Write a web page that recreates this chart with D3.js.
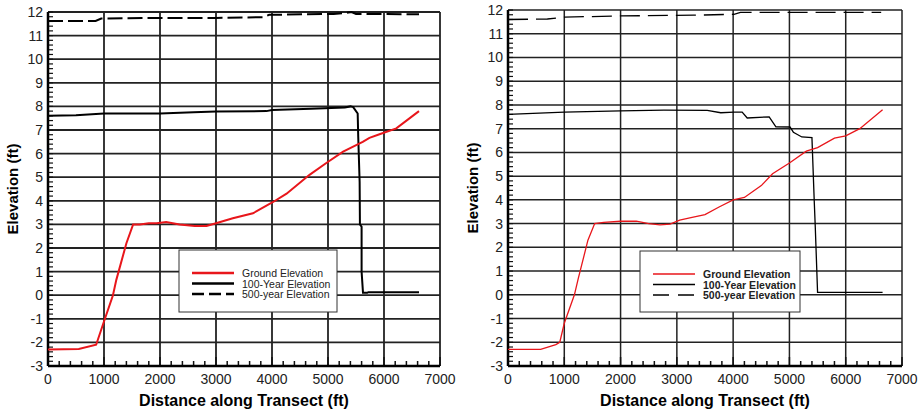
<!DOCTYPE html>
<html>
<head>
<meta charset="utf-8">
<script src="https://cdn.jsdelivr.net/npm/d3@7"></script>
<style>
  body { margin: 0; background: #fff; }
  svg { display: block; font-family: "Liberation Sans", Arial, sans-serif; }
</style>
</head>
<body>
<svg id="chart" width="924" height="413"></svg>
<script>
// Left panel
const groundLeft = [[0,-2.3],[550,-2.28],[860,-2.1],[980,-1.25],[1160,0],[1220,0.65],[1400,2.2],[1520,3.0],[1640,3.0],[1800,3.05],[1940,3.05],[2110,3.1],[2350,3.0],[2620,2.93],[2830,2.93],[3000,3.05],[3300,3.26],[3660,3.47],[4020,3.95],[4260,4.3],[4670,5.1],[4970,5.6],[5270,6.08],[5620,6.5],[5740,6.67],[5920,6.82],[6220,7.07],[6625,7.8]];
const hundredLeft = [[0,7.6],[500,7.62],[1000,7.7],[2000,7.7],[2600,7.75],[3000,7.78],[3900,7.8],[4000,7.85],[4700,7.9],[5300,7.95],[5400,8.0],[5450,7.97],[5530,7.7],[5540,6.7],[5565,4.8],[5570,3.0],[5600,2.9],[5600,1.0],[5625,0.1],[5700,0.1],[5720,0.13],[6625,0.13]];
const fiveHundredLeft = [[0,11.62],[850,11.62],[950,11.72],[2000,11.75],[3000,11.75],[3850,11.78],[3950,11.88],[5100,11.92],[5300,11.95],[5420,12.0],[5500,11.92],[6625,11.9]];

// Right panel
const groundRight = [[0,-2.3],[580,-2.3],[850,-2.1],[920,-2.0],[1000,-1.2],[1180,0],[1250,0.7],[1420,2.3],[1540,3.0],[1700,3.05],[2000,3.1],[2280,3.1],[2500,3.0],[2700,2.95],[2880,2.98],[3050,3.15],[3250,3.25],[3500,3.38],[3750,3.7],[4000,4.0],[4200,4.1],[4500,4.6],[4700,5.1],[5000,5.55],[5300,6.05],[5500,6.2],[5800,6.6],[6000,6.7],[6250,7.0],[6655,7.8]];
const hundredRight = [[0,7.6],[1000,7.7],[2000,7.75],[2770,7.78],[3540,7.77],[3780,7.67],[4015,7.7],[4160,7.7],[4250,7.45],[4640,7.5],[4760,7.08],[5010,7.07],[5070,6.85],[5220,6.65],[5400,6.62],[5440,4.0],[5460,2.8],[5500,0.1],[6655,0.1]];
const fiveHundredRight = [[0,11.6],[700,11.62],[1000,11.7],[2000,11.75],[3300,11.78],[4015,11.82],[4130,11.9],[6630,11.9]];

const xTicks = [0,1000,2000,3000,4000,5000,6000,7000];
const yTicks = d3.range(-3, 13, 1);
const legendLabels = ["Ground Elevation", "100-Year Elevation", "500-year Elevation"];

const svg = d3.select("#chart");

function drawPanel(cfg) {
    const g = svg.append("g");

    const x = d3.scaleLinear().domain([0, 7000]).range([cfg.left, cfg.right]);
    const y = d3.scaleLinear().domain([-3, 12]).range([cfg.bottom, cfg.top]);

    // grid
    g.selectAll(".vgrid").data(xTicks).enter().append("line")
        .attr("x1", d => x(d)).attr("x2", d => x(d))
        .attr("y1", y(-3)).attr("y2", y(12))
        .attr("stroke", "#222").attr("stroke-width", cfg.grid);
    g.selectAll(".hgrid").data(yTicks).enter().append("line")
        .attr("x1", x(0)).attr("x2", x(7000))
        .attr("y1", d => y(d)).attr("y2", d => y(d))
        .attr("stroke", "#222").attr("stroke-width", cfg.grid);

    // minor ticks
    const xMinor = d3.range(0, 7001, 200);
    const yMinor = d3.range(-3, 12.001, 0.2);
    g.selectAll(".xm").data(xMinor).enter().append("line")
        .attr("x1", d => x(d)).attr("x2", d => x(d))
        .attr("y1", y(-3)).attr("y2", d => y(-3) - (d % 1000 === 0 ? 9 : 5))
        .attr("stroke", "#111").attr("stroke-width", 1.5);
    g.selectAll(".ym").data(yMinor).enter().append("line")
        .attr("x1", x(0)).attr("x2", x(0) + 5)
        .attr("y1", d => y(d)).attr("y2", d => y(d))
        .attr("stroke", "#111").attr("stroke-width", 1.2);

    // axes frame
    g.append("line").attr("x1", x(0)).attr("x2", x(7000)).attr("y1", y(-3)).attr("y2", y(-3))
        .attr("stroke", "#000").attr("stroke-width", 2.5);
    g.append("line").attr("x1", x(0)).attr("x2", x(0)).attr("y1", y(-3)).attr("y2", y(12))
        .attr("stroke", "#000").attr("stroke-width", 2.5);

    // tick labels
    g.selectAll(".xl").data(xTicks).enter().append("text")
        .attr("x", d => x(d)).attr("y", cfg.bottom + 18)
        .attr("text-anchor", "middle").attr("font-size", 14).attr("fill", "#222")
        .text(d => d);
    g.selectAll(".yl").data(yTicks).enter().append("text")
        .attr("x", cfg.left - 5).attr("y", d => y(d) + 5)
        .attr("text-anchor", "end").attr("font-size", 14).attr("fill", "#222")
        .text(d => d);

    // axis titles
    g.append("text")
        .attr("x", (cfg.left + cfg.right) / 2).attr("y", 406)
        .attr("text-anchor", "middle").attr("font-size", 16).attr("font-weight", "bold")
        .text("Distance along Transect (ft)");
    g.append("text")
        .attr("transform", `translate(${cfg.left - 30},${(cfg.top + cfg.bottom) / 2}) rotate(-90)`)
        .attr("text-anchor", "middle").attr("font-size", 15).attr("font-weight", "bold")
        .text("Elevation (ft)");

    // series
    const line = d3.line().x(d => x(d[0])).y(d => y(d[1]));
    g.append("path").datum(cfg.five).attr("d", line)
        .attr("fill", "none").attr("stroke", "#000").attr("stroke-width", cfg.lw)
        .attr("stroke-dasharray", cfg.dash);
    g.append("path").datum(cfg.hundred).attr("d", line)
        .attr("fill", "none").attr("stroke", "#000").attr("stroke-width", cfg.lw);
    g.append("path").datum(cfg.ground).attr("d", line)
        .attr("fill", "none").attr("stroke", "#e8161b").attr("stroke-width", cfg.lw);

    // legend
    const lg = g.append("g");
    lg.append("rect")
        .attr("x", cfg.legend.x).attr("y", cfg.legend.y)
        .attr("width", cfg.legend.w).attr("height", cfg.legend.h)
        .attr("fill", "#fff").attr("stroke", "#333").attr("stroke-width", 1);
    const styles = [
        { c: "#e8161b", dash: null },
        { c: "#000", dash: null },
        { c: "#000", dash: cfg.legendDash }
    ];
    legendLabels.forEach((t, i) => {
        const ly = cfg.legend.y + 23 + i * 10.5;
        lg.append("line")
            .attr("x1", cfg.legend.x + 13).attr("x2", cfg.legend.x + 55)
            .attr("y1", ly).attr("y2", ly)
            .attr("stroke", styles[i].c).attr("stroke-width", cfg.legendLw)
            .attr("stroke-dasharray", styles[i].dash);
        lg.append("text")
            .attr("x", cfg.legend.x + 63).attr("y", ly + 4)
            .attr("font-size", 10.5).attr("font-weight", cfg.legendBold ? "bold" : "normal")
            .attr("fill", "#222")
            .text(t);
    });
}

drawPanel({
    left: 48, right: 440, top: 12, bottom: 366,
    ground: groundLeft, hundred: hundredLeft, five: fiveHundredLeft,
    lw: 2, grid: 1.8, dash: "15,5",
    legend: { x: 179, y: 250, w: 158, h: 62 }, legendLw: 2.5, legendDash: "12,5", legendBold: false
});

drawPanel({
    left: 508, right: 902, top: 10, bottom: 366,
    ground: groundRight, hundred: hundredRight, five: fiveHundredRight,
    lw: 1.3, grid: 1.5, dash: "20,8",
    legend: { x: 640, y: 251, w: 160, h: 61 }, legendLw: 1.5, legendDash: "16,9", legendBold: true
});
</script>
</body>
</html>
